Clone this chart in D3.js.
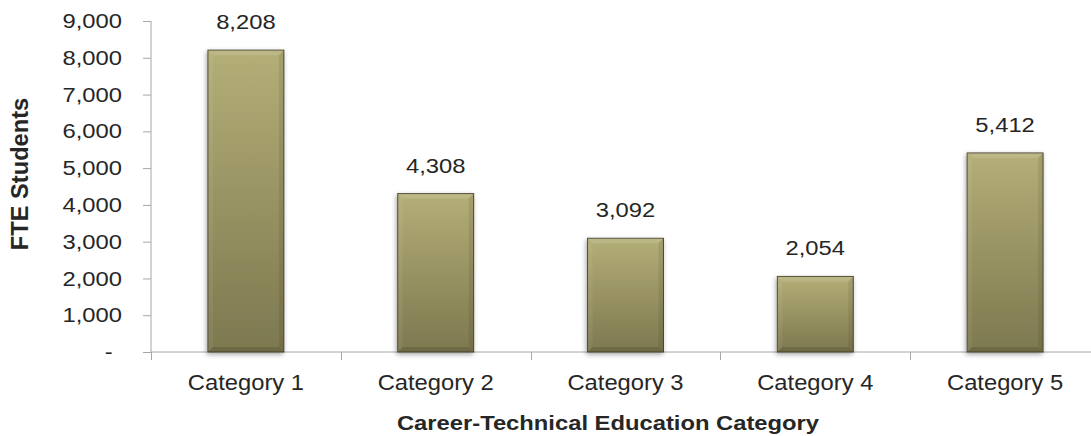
<!DOCTYPE html>
<html>
<head>
<meta charset="utf-8">
<script src="https://cdn.jsdelivr.net/npm/d3@7/dist/d3.min.js"></script>
<style>
  html, body { margin: 0; padding: 0; background: #fff; }
  svg { display: block; }
  text { font-family: "Liberation Sans", Arial, sans-serif; fill: #262626; }
</style>
</head>
<body>
<svg id="chart" width="1091" height="436"></svg>
<script>
// FTE students by career-technical education category
const categories = ["Category 1", "Category 2", "Category 3", "Category 4", "Category 5"];
const fteStudents = [8208, 4308, 3092, 2054, 5412];
const yTicks = [0, 1000, 2000, 3000, 4000, 5000, 6000, 7000, 8000, 9000];

const svg = d3.select("#chart");
const W = 1091, H = 436;
const plot = { left: 151, right: 1100, top: 21, bottom: 352 };

// Text is drawn slightly wide: horizontal stretch about the anchor point
const stretch = (ax, ay, s) => `translate(${ax},${ay}) scale(${s},1) translate(${-ax},${-ay})`;

const x = d3.scaleBand()
  .domain(categories)
  .range([plot.left, plot.right])
  .paddingInner(0.6)
  .paddingOuter(0.3);

const xBound = d3.scaleBand().domain(categories).range([plot.left, plot.right]);

const y = d3.scaleLinear().domain([0, 9000]).range([plot.bottom, plot.top]);

const fmt = d3.format(",");

// Gradient + shadow definitions
const defs = svg.append("defs");
const grad = defs.append("linearGradient")
  .attr("id", "barFill").attr("x1", 0).attr("y1", 0).attr("x2", 0).attr("y2", 1);
grad.append("stop").attr("offset", "0%").attr("stop-color", "#b4ae77");
grad.append("stop").attr("offset", "100%").attr("stop-color", "#7d784f");

const shadow = defs.append("filter").attr("id", "barShadow")
  .attr("x", "-20%").attr("y", "-5%").attr("width", "140%").attr("height", "115%");
shadow.append("feGaussianBlur").attr("in", "SourceAlpha").attr("stdDeviation", 2.5);
shadow.append("feOffset").attr("dx", -1).attr("dy", 2).attr("result", "off");
shadow.append("feComponentTransfer").append("feFuncA").attr("type", "linear").attr("slope", 0.35);
const merge = shadow.append("feMerge");
merge.append("feMergeNode");
merge.append("feMergeNode").attr("in", "SourceGraphic");

// Y axis
const yAxis = svg.append("g")
  .attr("transform", `translate(${plot.left},0)`)
  .call(d3.axisLeft(y).tickValues(yTicks).tickSize(8).tickPadding(21)
    .tickFormat(d => d === 0 ? "-" : fmt(d)));
yAxis.select(".domain").attr("stroke", "#a6a6a6").attr("d", `M0,${plot.top}V${plot.bottom}`);
yAxis.selectAll(".tick line").attr("stroke", "#a6a6a6");
yAxis.selectAll(".tick text")
  .style("font-family", "'Liberation Sans', Arial, sans-serif")
  .style("font-size", "20.5px").attr("fill", "#262626")
  .attr("transform", stretch(-29, 0, 1.16));
yAxis.selectAll(".tick").filter(d => d === 0).select("text").attr("dx", -8);

// X axis with ticks at category boundaries
const xg = svg.append("g");
xg.append("line")
  .attr("x1", plot.left).attr("x2", W).attr("y1", plot.bottom).attr("y2", plot.bottom)
  .attr("stroke", "#a6a6a6");
xg.selectAll("line.bound")
  .data(categories.slice(1))
  .join("line")
  .attr("class", "bound")
  .attr("x1", d => Math.round(xBound(d)) + 0.5).attr("x2", d => Math.round(xBound(d)) + 0.5)
  .attr("y1", plot.bottom).attr("y2", plot.bottom + 8)
  .attr("stroke", "#a6a6a6");
xg.append("line")
  .attr("x1", plot.left + 0.5).attr("x2", plot.left + 0.5)
  .attr("y1", plot.bottom).attr("y2", plot.bottom + 8)
  .attr("stroke", "#a6a6a6");
xg.selectAll("text.cat")
  .data(categories)
  .join("text")
  .attr("class", "cat")
  .attr("x", d => x(d) + x.bandwidth() / 2)
  .attr("y", 390)
  .attr("text-anchor", "middle")
  .style("font-size", "22px")
  .attr("transform", d => stretch(x(d) + x.bandwidth() / 2, 390, 1.08))
  .text(d => d);

// Bars
const bars = svg.append("g").selectAll("g.bar")
  .data(categories.map((c, i) => ({ c, v: fteStudents[i] })))
  .join("g").attr("class", "bar");

bars.append("rect")
  .attr("x", d => x(d.c))
  .attr("y", d => y(d.v))
  .attr("width", x.bandwidth())
  .attr("height", d => y(0) - y(d.v))
  .attr("fill", "url(#barFill)")
  .attr("stroke", "#4d4a32")
  .attr("stroke-width", 1)
  .attr("filter", "url(#barShadow)");

// Bevel facets: lighter top/left, darker bottom/right
const bev = 5;
bars.append("path")
  .attr("d", d => {
    const x0 = x(d.c), x1 = x0 + x.bandwidth(), y0 = y(d.v);
    return `M${x0},${y0}L${x1},${y0}L${x1 - bev},${y0 + bev}L${x0 + bev},${y0 + bev}Z`;
  })
  .attr("fill", "#ffffff").attr("opacity", 0.12);
bars.append("path")
  .attr("d", d => {
    const x0 = x(d.c), y0 = y(d.v), y1 = y(0);
    return `M${x0},${y0}L${x0 + bev},${y0 + bev}L${x0 + bev},${y1 - bev}L${x0},${y1}Z`;
  })
  .attr("fill", "#ffffff").attr("opacity", 0.06);
bars.append("path")
  .attr("d", d => {
    const x0 = x(d.c), x1 = x0 + x.bandwidth(), y0 = y(d.v), y1 = y(0);
    return `M${x1},${y0}L${x1},${y1}L${x1 - bev},${y1 - bev}L${x1 - bev},${y0 + bev}Z`;
  })
  .attr("fill", "#000000").attr("opacity", 0.08);
bars.append("path")
  .attr("d", d => {
    const x0 = x(d.c), x1 = x0 + x.bandwidth(), y1 = y(0);
    return `M${x0},${y1}L${x1},${y1}L${x1 - bev},${y1 - bev}L${x0 + bev},${y1 - bev}Z`;
  })
  .attr("fill", "#000000").attr("opacity", 0.12);

// Value labels
bars.append("text")
  .attr("x", d => x(d.c) + x.bandwidth() / 2)
  .attr("y", d => y(d.v) - 21)
  .attr("text-anchor", "middle")
  .style("font-size", "20.5px")
  .attr("transform", d => stretch(x(d.c) + x.bandwidth() / 2, y(d.v) - 21, 1.16))
  .text(d => fmt(d.v));

// Axis titles
svg.append("text")
  .attr("transform", `translate(28,174) rotate(-90) scale(1.1,1.1)`)
  .attr("text-anchor", "middle")
  .style("font-size", "21.5px").style("font-weight", "bold")
  .text("FTE Students");

svg.append("text")
  .attr("x", 608).attr("y", 430)
  .attr("text-anchor", "middle")
  .style("font-size", "20.5px").style("font-weight", "bold")
  .attr("transform", stretch(608, 430, 1.16))
  .text("Career-Technical Education Category");
</script>
</body>
</html>
